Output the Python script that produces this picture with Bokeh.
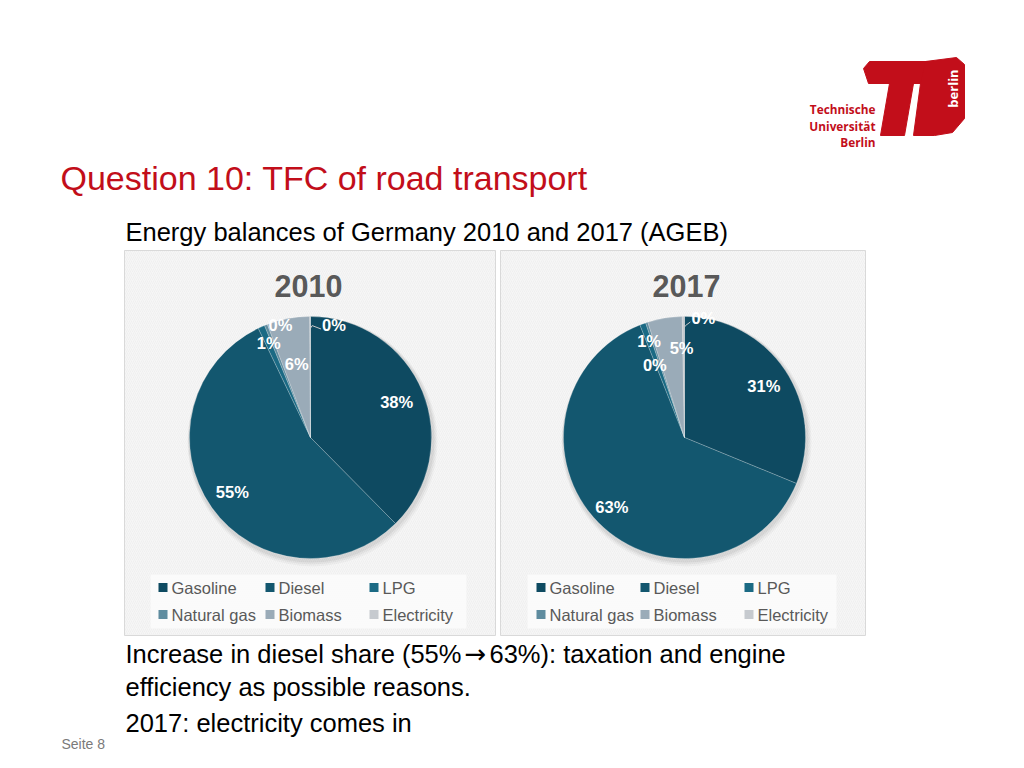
import math
from bokeh.plotting import figure
from bokeh.models import Range1d
from bokeh.core.properties import value
from bokeh.embed import file_html
from bokeh.resources import INLINE

# ---------------- data ----------------
categories = ["Gasoline", "Diesel", "LPG", "Natural gas", "Biomass", "Electricity"]
years = ["2010", "2017"]
shares_2010 = [37.6, 55.3, 0.9, 0.4, 5.7, 0.1]
shares_2017 = [31.2, 62.8, 0.8, 0.3, 4.6, 0.3]
colors = ["#0e4a61", "#13576f", "#1b6a84", "#5f8c9f", "#9aabb8", "#c6cacf"]

title = "Question 10: TFC of road transport"
subtitle = "Energy balances of Germany 2010 and 2017 (AGEB)"
body_line1 = ["Increase in diesel share (55%", "\u2192", "63%): taxation and engine"]
body_lines = ["efficiency as possible reasons.", "2017: electricity comes in"]
footer = "Seite 8"
logo_lines = ["Technische", "Universit\u00e4t", "Berlin"]

# ---------------- layout / style ----------------
W, H = 1008, 752
def Y(s):  # screen y (reference coords) -> data y
    return 768 - s

RED = "#c20e1a"
FONT = "Liberation Sans"
R = 121

p = figure(width=W, height=H, x_range=Range1d(0, 1008), y_range=Range1d(16, 768),
           x_axis_type=None, y_axis_type=None, toolbar_location=None,
           output_backend="svg", min_border=0)
p.outline_line_color = None
p.grid.visible = False
p.background_fill_color = "white"
p.border_fill_color = "white"

# title texts
p.text(x=[60], y=[Y(177)], text=[title], text_font=value(FONT), text_font_size="34px",
       text_color=RED, text_baseline="middle")
p.text(x=[125], y=[Y(231)], text=[subtitle], text_font=value(FONT), text_font_size="25.5px",
       text_color="#000000", text_baseline="middle")
p.text(x=[125], y=[Y(653)], text=[body_line1[0]], text_font=value(FONT), text_font_size="25.5px",
       text_color="#000000", text_baseline="middle")
p.text(x=[475], y=[Y(653)], text=[body_line1[1]], text_font=value("DejaVu Sans"),
       text_font_size="26px", text_color="#000000", text_baseline="middle", text_align="center")
p.text(x=[489], y=[Y(653)], text=[body_line1[2]], text_font=value(FONT), text_font_size="25.5px",
       text_color="#000000", text_baseline="middle")
for ln, ys in zip(body_lines, [686, 722]):
    p.text(x=[125], y=[Y(ys)], text=[ln], text_font=value(FONT), text_font_size="25.5px",
           text_color="#000000", text_baseline="middle")
p.text(x=[61], y=[Y(743)], text=[footer], text_font=value(FONT), text_font_size="14px",
       text_color="#7a7a7a", text_baseline="middle")

# logo
p.patches(xs=[[863, 869, 934, 931, 868],
              [889, 913, 904, 880],
              [925, 956, 964, 964, 952, 934, 913, 920]],
          ys=[[Y(68), Y(61), Y(61), Y(83), Y(83)],
              [Y(83), Y(83), Y(135), Y(135)],
              [Y(61), Y(57), Y(64), Y(118), Y(132), Y(135), Y(135), Y(83)]],
          fill_color=RED, line_color=RED)
p.text(x=[952], y=[Y(88)], text=["berlin"], angle=math.pi / 2, text_font=value("Open Sans"),
       text_font_size="13px", text_font_style="bold", text_color="white",
       text_align="center", text_baseline="middle")
for ln, ys in zip(logo_lines, [108, 125, 141]):
    p.text(x=[875], y=[Y(ys)], text=[ln], text_font=value("Open Sans"), text_font_size="11.8px",
           text_font_style="bold", text_color=RED, text_align="right", text_baseline="middle")

# panels
panels = [(124, 495), (500, 865)]
centers = [(310, 437), (684, 437)]
title_x = [308, 686]
legend_boxes = [(150, 466), (527, 836)]
legend_sq_x = [[158, 265, 369], [536, 640, 744]]
shares = [shares_2010, shares_2017]
# label placement (radius factor, angle nudge in degrees) per slice
label_f = [[0.77, 0.79, 0.85, 0.96, 0.62, 0.95], [0.78, 0.83, 0.85, 0.65, 0.74, 1.0]]
label_da = [[0, 0, 0, 6.6, 0, 12], [1, 1, 0, -4, 7.5, 9.5]]

for k in range(2):
    l, r = panels[k]
    p.quad(left=[l], right=[r], top=[Y(250)], bottom=[Y(635)], fill_color="#f6f6f6",
           line_color="#d9d9d9", line_width=1, hatch_pattern="right_diagonal_line",
           hatch_color="#e4e4e4", hatch_alpha=0.7, hatch_scale=4, hatch_weight=0.6)
    lb, rb = legend_boxes[k]
    p.quad(left=[lb], right=[rb], top=[Y(574)], bottom=[Y(628)], fill_color="#fcfcfc",
           fill_alpha=0.85, line_color=None)
    p.text(x=[title_x[k]], y=[Y(285)], text=[years[k]], text_font=value(FONT),
           text_font_size="30.5px", text_font_style="bold", text_color="#595959",
           text_align="center", text_baseline="middle")

    cx, cy = centers[k][0], Y(centers[k][1])
    # soft shadow
    for off, a in [(4, 0.03), (3, 0.04), (2, 0.05)]:
        p.circle(x=[cx + off * 0.5], y=[cy - off], radius=R + off, fill_color="#000000",
                 fill_alpha=a, line_color=None)
    vals = shares[k]
    tot = sum(vals)
    cum = [0.0]
    for v in vals:
        cum.append(cum[-1] + v / tot)
    starts = [math.pi / 2 - 2 * math.pi * c for c in cum[:-1]]
    ends = [math.pi / 2 - 2 * math.pi * c for c in cum[1:]]
    p.wedge(x=cx, y=cy, radius=R, start_angle=starts, end_angle=ends, direction="clock",
            fill_color=colors, line_color="#ffffff", line_alpha=0.35, line_width=0.6)

    lx, ly, lt = [], [], []
    for i, v in enumerate(vals):
        mid = (cum[i] + cum[i + 1]) / 2 * 360 + label_da[k][i]
        th = math.radians(mid)
        d = R * label_f[k][i]
        lx.append(cx + d * math.sin(th))
        ly.append(cy + d * math.cos(th))
        lt.append(f"{round(v / tot * 100):d}%")
    # leader line for electricity
    th_e = math.radians((cum[5] + cum[6]) / 2 * 360)
    sx, sy_ = cx + R * 0.9 * math.sin(th_e), cy + R * 0.9 * math.cos(th_e)
    p.line(x=[sx, sx + 2, lx[5] - 13], y=[sy_, sy_ + 3, ly[5] - 4],
           line_color="#c9c9c9", line_width=1)
    p.text(x=lx, y=ly, text=lt, text_font=value(FONT), text_font_size="16.5px",
           text_font_style="bold", text_color="white", text_align="center",
           text_baseline="middle")

    # legend
    for i, cat in enumerate(categories):
        row, col = divmod(i, 3)
        ys = Y(587 + 27 * row)
        xs = legend_sq_x[k][col]
        p.rect(x=[xs + 4.5], y=[ys], width=9, height=9, fill_color=colors[i], line_color=None)
        p.text(x=[xs + 13], y=[ys], text=[cat], text_font=value(FONT), text_font_size="16.5px",
               text_color="#595959", text_baseline="middle")

open("out.html", "w").write(file_html(p, INLINE))
